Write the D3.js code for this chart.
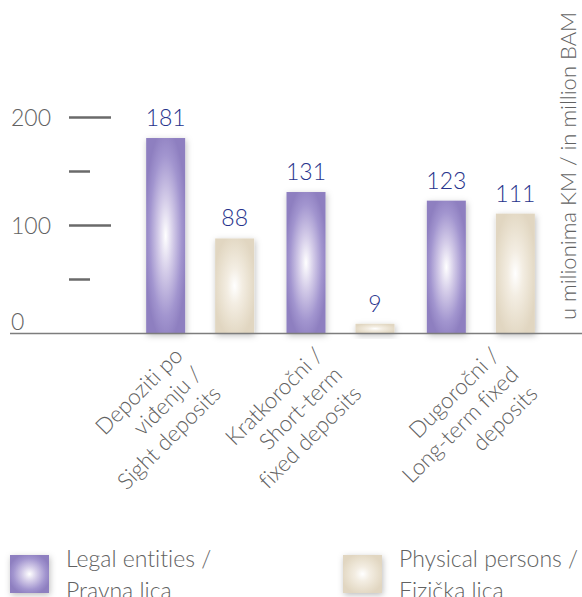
<!DOCTYPE html>
<html>
<head>
<meta charset="utf-8">
<script src="https://cdn.jsdelivr.net/npm/d3@7"></script>
<style>
  html, body { margin: 0; padding: 0; background: #ffffff; }
  svg { display: block; font-family: Lato, "Open Sans", sans-serif; font-weight: 300; font-variant-ligatures: none; }
</style>
</head>
<body>
<svg id="chart" width="582" height="597"></svg>
<script>
// ---- data ----
const categories = ["Depoziti po viđenju / Sight deposits", "Kratkoročni / Short-term fixed deposits", "Dugoročni / Long-term fixed deposits"];
const categoryLabelLines = [
  ["Depoziti po", "viđenju /", "Sight deposits"],
  ["Kratkoročni /", "Short-term", "fixed deposits"],
  ["Dugoročni /", "Long-term fixed", "deposits"]
];
const seriesNames = ["Legal entities / Pravna lica", "Physical persons / Fizička lica"];
const legendLines = [["Legal entities /", "Pravna lica"], ["Physical persons /", "Fizička lica"]];
const legalEntities = [181, 131, 123];
const physicalPersons = [88, 9, 111];
const majorTicks = [0, 100, 200];
const minorTicks = [50, 150];
const unitLabel = "u milionima KM / in million BAM";

// ---- layout ----
const svg = d3.select("#chart");
const baseY = 333.5;
const y = d3.scaleLinear().domain([0, 200]).range([baseY, 117.5]);
const x0 = d3.scaleBand().domain(categories).range([130, 551]).padding(0);
const pi = 30 / 69;
const x1 = d3.scaleBand().domain(seriesNames)
  .range([x0.bandwidth() / 2 - 69, x0.bandwidth() / 2 + 69])
  .paddingInner(pi).paddingOuter(pi / 2);

const rows = categories.map((c, i) => ({ cat: c, vals: [legalEntities[i], physicalPersons[i]] }));

// ---- defs ----
const defs = svg.append("defs");
const gradSpecs = [
  { id: "gPurple", stops: [[0, "#ffffff"], [0.35, "#d3cbe8"], [0.75, "#a295cf"], [1, "#8e7fc0"]] },
  { id: "gBeige", stops: [[0, "#ffffff"], [0.35, "#f3ede2"], [0.75, "#e8dfcd"], [1, "#e1d6c1"]] }
];
gradSpecs.forEach(g => {
  const rg = defs.append("radialGradient").attr("id", g.id)
    .attr("cx", 0.5).attr("cy", 0.5).attr("r", 0.55);
  g.stops.forEach(s => rg.append("stop").attr("offset", s[0]).attr("stop-color", s[1]));
});
const f = defs.append("filter").attr("id", "shadow")
  .attr("x", "-50%").attr("y", "-50%").attr("width", "200%").attr("height", "200%");
f.append("feDropShadow").attr("dx", 1).attr("dy", 2).attr("stdDeviation", 3)
  .attr("flood-color", "#000").attr("flood-opacity", 0.26);
const fills = ["url(#gPurple)", "url(#gBeige)"];

// ---- y axis ----
const axisG = svg.append("g");
axisG.selectAll("line.major").data(majorTicks.filter(t => t > 0)).join("line")
  .attr("x1", 69).attr("x2", 111)
  .attr("y1", d => y(d)).attr("y2", d => y(d))
  .attr("stroke", "#6a6a6a").attr("stroke-width", 2.5);
axisG.selectAll("line.minor").data(minorTicks).join("line")
  .attr("x1", 69).attr("x2", 90)
  .attr("y1", d => y(d)).attr("y2", d => y(d))
  .attr("stroke", "#6a6a6a").attr("stroke-width", 2.5);
axisG.selectAll("text").data(majorTicks).join("text")
  .attr("x", 11)
  .attr("y", d => d === 0 ? y(d) - 12 : y(d))
  .attr("dy", "0.36em")
  .attr("font-size", 23)
  .attr("fill", "#626262")
  .text(d => d);

// ---- bars ----
const groups = svg.selectAll("g.grp").data(rows).join("g")
  .attr("transform", d => `translate(${x0(d.cat)},0)`);
groups.selectAll("rect").data(d => d.vals.map((v, j) => ({ v, s: seriesNames[j], j }))).join("rect")
  .attr("x", d => x1(d.s))
  .attr("width", x1.bandwidth())
  .attr("y", d => y(d.v))
  .attr("height", d => baseY - y(d.v))
  .attr("fill", d => fills[d.j])
  .attr("filter", "url(#shadow)");
groups.selectAll("text").data(d => d.vals.map((v, j) => ({ v, s: seriesNames[j], j }))).join("text")
  .attr("x", d => x1(d.s) + x1.bandwidth() / 2)
  .attr("y", d => y(d.v) - 12)
  .attr("text-anchor", "middle")
  .attr("font-size", 23)
  .attr("fill", "#27338c")
  .text(d => d.v);

// baseline
svg.append("line").attr("x1", 10).attr("x2", 582).attr("y1", baseY).attr("y2", baseY)
  .attr("stroke", "#7d7d7d").attr("stroke-width", 1.5);

// ---- category labels ----
const labelShift = [0, 0, 36];
categories.forEach((c, i) => {
  const ax = x0(c) + x0.bandwidth() / 2 - 16 + labelShift[i];
  const t = svg.append("text")
    .attr("transform", `translate(${ax},357) rotate(-45)`)
    .attr("text-anchor", "end")
    .attr("font-size", 22.5)
    .attr("fill", "#626262");
  categoryLabelLines[i].forEach((ln, k) => {
    t.append("tspan").attr("x", 0).attr("dy", k === 0 ? 0 : 27).text(ln);
  });
});

// ---- unit label ----
svg.append("text")
  .attr("transform", "translate(576,166) rotate(-90)")
  .attr("text-anchor", "middle")
  .attr("font-size", 22)
  .attr("fill", "#626262")
  .text(unitLabel);

// ---- legend ----
const legendX = [10, 343];
seriesNames.forEach((s, i) => {
  svg.append("rect").attr("x", legendX[i]).attr("y", 555).attr("width", 39).attr("height", 38)
    .attr("fill", fills[i]).attr("filter", "url(#shadow)");
  const t = svg.append("text").attr("font-size", 23).attr("fill", "#626262");
  legendLines[i].forEach((ln, k) => {
    t.append("tspan").attr("x", legendX[i] + 56).attr("y", 567 + k * 32).text(ln);
  });
});
</script>
</body>
</html>
